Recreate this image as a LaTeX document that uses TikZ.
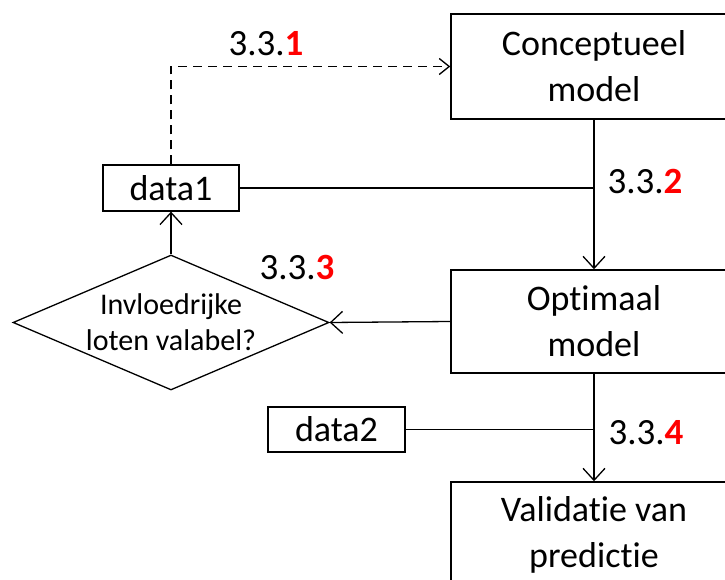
\documentclass[tikz,border=0pt]{standalone}
\usepackage{fontspec}
\setmainfont{Carlito}[Ligatures=NoCommon]
\usetikzlibrary{arrows.meta,shapes.geometric}

\begin{document}
\begin{tikzpicture}[x=1pt,y=-1pt,
    box/.style={draw,line width=1.5pt,minimum width=286pt,minimum height=105pt,align=center,font=\fontsize{36}{46}\selectfont},
    databox/.style={draw,line width=1.3pt,minimum width=136pt,minimum height=46pt,inner sep=0pt,font=\fontsize{36}{46}\selectfont},
    stepnr/.style={inner sep=0pt,font=\fontsize{37}{44}\selectfont},
    flow/.style={line width=1.3pt,-{Straight Barb[length=12pt,width=22pt,line width=1.3pt]}}]
            \clip (0, 0) rectangle (725, 580);
            \node[box] (concept) at (594, 66.5) {Conceptueel\\model};
            \node[box, minimum height=103pt] (optim) at (594, 321.5) {Optimaal\\model};
            \node[box] (valid) at (594, 534.5) {Validatie van\\predictie};
            \node[databox] (data1) at (171, 188) {data1};
            \node[databox, minimum width=137pt, minimum height=45pt] (data2) at (336.5, 429.5) {data2};
            \node[draw, line width=1.3pt, shape=diamond, aspect=2.34, inner sep=0pt, minimum width=316pt, minimum height=135pt,
                align=center, font=\fontsize{30}{36}\selectfont] (check) at (171, 322.5) {Invloedrijke\\loten valabel?};
            \coordinate (j1) at (concept.south |- data1.east);
            \coordinate (j2) at (optim.south |- data2.east);
            \draw[flow, dash pattern=on 9pt off 6pt, -{Straight Barb[length=10pt,width=16pt,line width=1.3pt]}] (data1.north) |- (concept.west);
            \draw[flow, line width=1.8pt] (concept.south) -- (optim.north);
            \draw[flow, line width=1.8pt] (optim.south) -- (valid.north);
            \draw[line width=1.3pt] (data1.east) -- (j1);
            \draw[line width=1.3pt] (data2.east) -- (j2);
            \draw[flow] (optim.west) -- (check.east);
            \draw[flow] (check.north) -- (data1.south);
            \node[stepnr] (n1) at (266, 44) {3.3.\textcolor{red}{\textbf{1}}};
            \node[stepnr] (n2) at (645, 182) {3.3.\textcolor{red}{\textbf{2}}};
            \node[stepnr] (n3) at (297, 268) {3.3.\textcolor{red}{\textbf{3}}};
            \node[stepnr] (n4) at (646, 433) {3.3.\textcolor{red}{\textbf{4}}};
        \end{tikzpicture}
\end{document}
